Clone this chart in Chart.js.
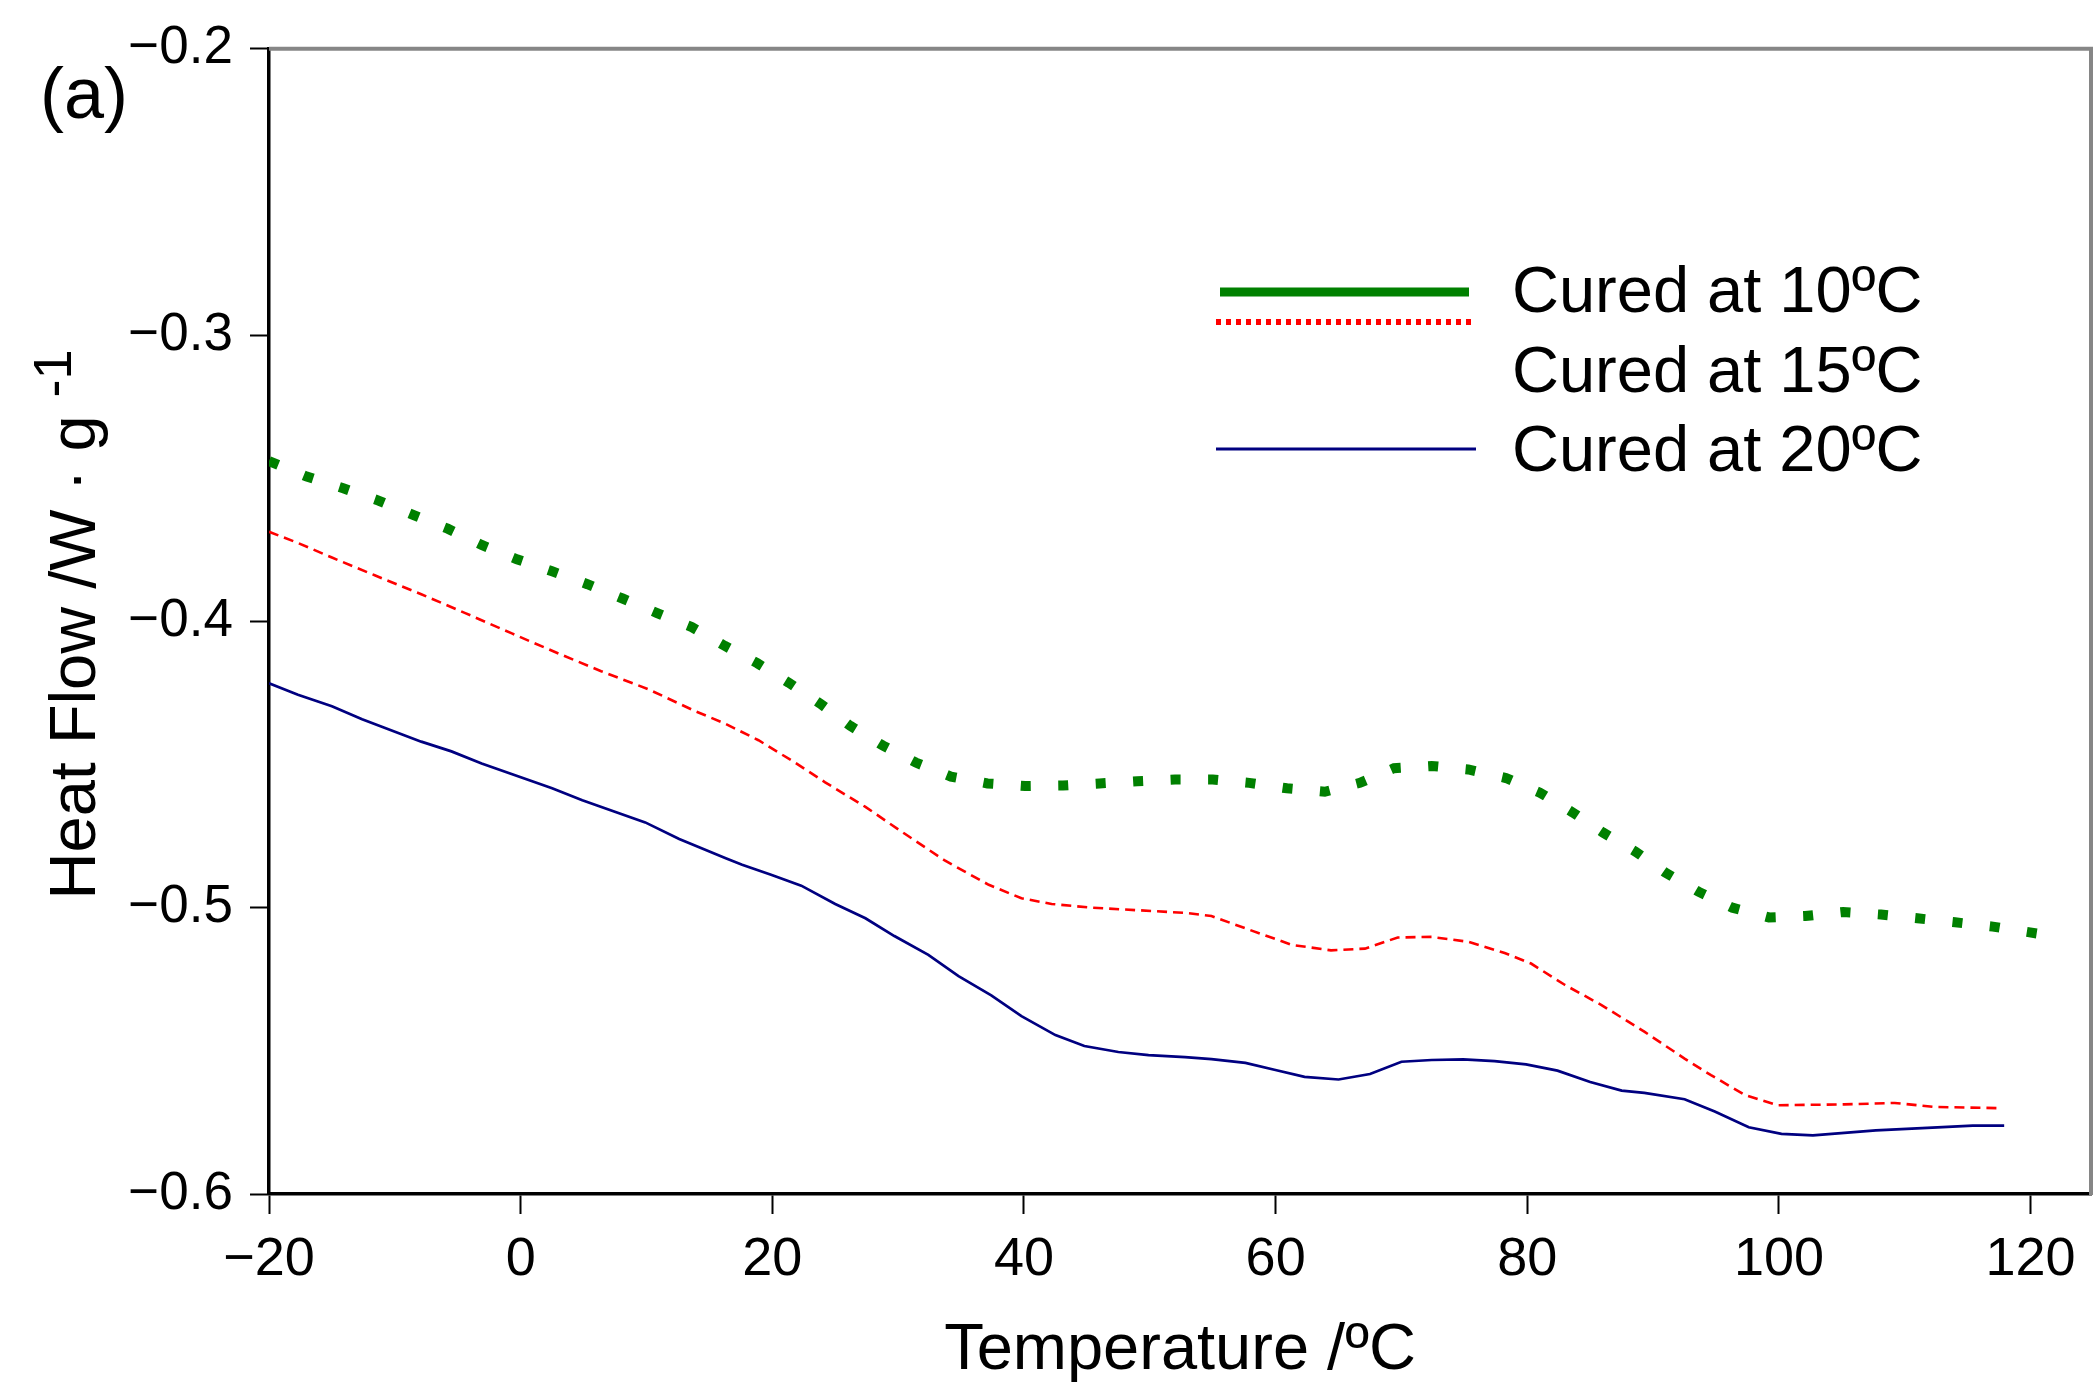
<!DOCTYPE html>
<html>
<head>
<meta charset="utf-8">
<title>DSC heat flow</title>
<script src="https://cdn.jsdelivr.net/npm/chart.js@4.4.1/dist/chart.umd.min.js"></script>
<style>
  html, body { margin: 0; padding: 0; background: #fff; }
  #wrap { width: 2095px; height: 1382px; }
</style>
</head>
<body>
<div id="wrap"><canvas id="dscChart" width="2095" height="1382"></canvas></div>
<script>
// Curves: temperature (ºC) vs heat flow (W/g)
const temp10 = [-20, -17.0, -14.1, -11.3, -8.5, -5.8, -3.1, -0.3, 2.5, 5.3, 8.1, 10.8, 13.6, 16.2, 18.8, 21.3, 23.8, 26.2, 28.8, 31.4, 34.2, 37.1, 40.1, 43.1, 46.0, 49.0, 52.0, 55.0, 57.9, 60.9, 63.9, 66.7, 69.4, 72.4, 75.3, 78.3, 81.0, 83.6, 86.0, 88.6, 91.0, 93.6, 96.3, 99.2, 102.1, 105.1, 108.1, 111.0, 114.0, 117.0, 120.5];
const flow10 = [-0.3440, -0.3494, -0.3535, -0.3578, -0.3629, -0.3676, -0.3733, -0.3783, -0.3825, -0.3870, -0.3920, -0.3970, -0.4020, -0.4085, -0.4146, -0.4214, -0.4287, -0.4365, -0.4434, -0.4493, -0.4542, -0.4566, -0.4575, -0.4573, -0.4566, -0.4558, -0.4552, -0.4552, -0.4564, -0.4583, -0.4595, -0.4564, -0.4513, -0.4505, -0.4517, -0.4547, -0.4598, -0.4667, -0.4737, -0.4804, -0.4878, -0.4944, -0.5000, -0.5034, -0.5029, -0.5015, -0.5024, -0.5037, -0.5051, -0.5066, -0.5090];

const temp15 = [-20, -17.7, -15.0, -11.6, -7.9, -4.4, -0.7, 3.0, 6.4, 10.1, 13.9, 16.2, 18.9, 21.8, 24.2, 27.4, 30.5, 33.7, 37.2, 39.8, 42.2, 45.4, 49.1, 52.8, 54.9, 58.1, 61.3, 64.4, 67.1, 69.7, 72.4, 75.3, 78.2, 80.3, 83.0, 85.9, 89.3, 92.5, 94.6, 97.3, 99.9, 105.2, 109.2, 112.4, 117.4];
const flow15 = [-0.3687, -0.3726, -0.3777, -0.3839, -0.3905, -0.3971, -0.4042, -0.4112, -0.4174, -0.4236, -0.4314, -0.4356, -0.4415, -0.4493, -0.4562, -0.4648, -0.4741, -0.4835, -0.4920, -0.4967, -0.4987, -0.5000, -0.5009, -0.5018, -0.5029, -0.5080, -0.5130, -0.5149, -0.5143, -0.5104, -0.5102, -0.5119, -0.5158, -0.5195, -0.5270, -0.5340, -0.5433, -0.5527, -0.5585, -0.5654, -0.5690, -0.5687, -0.5682, -0.5696, -0.5700];

const temp20 = [-20, -17.7, -15.0, -12.6, -7.9, -5.5, -3.1, 2.5, 4.9, 9.9, 12.6, 16.3, 17.6, 19.9, 22.3, 25.0, 27.4, 29.7, 32.4, 34.8, 37.4, 39.8, 42.5, 44.8, 47.5, 49.9, 52.8, 54.9, 57.6, 59.9, 62.3, 65.0, 67.5, 70.0, 72.4, 74.9, 77.4, 79.9, 82.4, 85.0, 87.5, 89.3, 92.5, 94.9, 97.6, 100.2, 102.7, 107.7, 112.6, 115.4, 117.9];
const flow20 = [-0.4216, -0.4256, -0.4296, -0.4342, -0.4420, -0.4454, -0.4496, -0.4583, -0.4625, -0.4702, -0.4760, -0.4827, -0.4850, -0.4885, -0.4923, -0.4987, -0.5037, -0.5099, -0.5165, -0.5239, -0.5306, -0.5379, -0.5445, -0.5483, -0.5504, -0.5515, -0.5522, -0.5529, -0.5542, -0.5566, -0.5591, -0.5600, -0.5581, -0.5538, -0.5532, -0.5530, -0.5536, -0.5547, -0.5569, -0.5609, -0.5639, -0.5647, -0.5669, -0.5712, -0.5767, -0.5790, -0.5795, -0.5778, -0.5767, -0.5761, -0.5761];

const seriesLabels = ['Cured at 10ºC', 'Cured at 15ºC', 'Cured at 20ºC'];
const xTicks = [-20, 0, 20, 40, 60, 80, 100, 120];
const yTicks = [-0.6, -0.5, -0.4, -0.3, -0.2];

const FONT = "'Liberation Sans', Arial, Helvetica, sans-serif";

function toPoints(xs, ys) {
  return xs.map((x, i) => ({ x: x, y: ys[i] }));
}

function minusLabel(v, digits) {
  const s = Math.abs(v).toFixed(digits);
  return v < 0 ? '\u2212' + s : s;
}

// axis titles, panel tag, grey frame and the legend
const figureDecor = {
  id: 'figureDecor',
  afterDraw(chart) {
    const ctx = chart.ctx;
    const a = chart.chartArea;
    ctx.save();

    // grey top / right frame
    ctx.strokeStyle = '#868686';
    ctx.lineWidth = 4;
    ctx.beginPath();
    ctx.moveTo(a.left, a.top);
    ctx.lineTo(a.right, a.top);
    ctx.lineTo(a.right, a.bottom + 1);
    ctx.stroke();

    ctx.fillStyle = '#000';
    ctx.textBaseline = 'alphabetic';

    // panel tag
    ctx.font = '72px ' + FONT;
    ctx.textAlign = 'left';
    ctx.fillText('(a)', 40, 118);

    // x title
    ctx.font = '65px ' + FONT;
    ctx.textAlign = 'center';
    ctx.fillText('Temperature /ºC', (a.left + a.right) / 2, 1369);

    // y title with superscript
    const main = 'Heat Flow /W \u00b7 g';
    const sup = '-1';
    ctx.font = '65px ' + FONT;
    const wMain = ctx.measureText(main).width;
    const gap = ctx.measureText(' ').width;
    ctx.font = '54px ' + FONT;
    const wSup = ctx.measureText(sup).width;
    const total = wMain + gap + wSup;
    const midY = (a.top + a.bottom) / 2 + 3;
    ctx.save();
    ctx.translate(95, midY + total / 2);
    ctx.rotate(-Math.PI / 2);
    ctx.textAlign = 'left';
    ctx.font = '65px ' + FONT;
    ctx.fillText(main, 0, 0);
    ctx.font = '54px ' + FONT;
    ctx.fillText(sup, wMain + gap, -24);
    ctx.restore();

    // legend (sample lines as in the original figure)
    const ds = chart.data.datasets;
    ctx.lineCap = 'butt';
    ctx.strokeStyle = ds[0].borderColor;
    ctx.lineWidth = 9;
    ctx.setLineDash([]);
    ctx.beginPath(); ctx.moveTo(1220, 292); ctx.lineTo(1469, 292); ctx.stroke();

    ctx.strokeStyle = ds[1].borderColor;
    ctx.lineWidth = 6;
    ctx.setLineDash([5, 5]);
    ctx.beginPath(); ctx.moveTo(1216, 322); ctx.lineTo(1476, 322); ctx.stroke();

    ctx.strokeStyle = ds[2].borderColor;
    ctx.lineWidth = 3;
    ctx.setLineDash([]);
    ctx.beginPath(); ctx.moveTo(1216, 449); ctx.lineTo(1476, 449); ctx.stroke();

    ctx.font = '65px ' + FONT;
    ctx.textAlign = 'left';
    ctx.fillStyle = '#000';
    const rows = [312, 392, 471];
    ds.forEach((d, i) => ctx.fillText(d.label, 1512, rows[i]));

    ctx.restore();
  }
};

const chart = new Chart(document.getElementById('dscChart'), {
  type: 'line',
  data: {
    datasets: [
      {
        label: seriesLabels[0],
        data: toPoints(temp10, flow10),
        borderColor: '#008000',
        borderWidth: 10,
        borderDash: [10, 27.5],
        borderCapStyle: 'butt',
      },
      {
        label: seriesLabels[1],
        data: toPoints(temp15, flow15),
        borderColor: '#ff0000',
        borderWidth: 2.6,
        borderDash: [10, 6],
      },
      {
        label: seriesLabels[2],
        data: toPoints(temp20, flow20),
        borderColor: '#000080',
        borderWidth: 2.7,
      }
    ]
  },
  options: {
    responsive: false,
    animation: false,
    devicePixelRatio: 1,
    layout: { padding: { left: 0, right: 4, top: 45, bottom: 0 } },
    elements: {
      point: { radius: 0, hoverRadius: 0 },
      line: { tension: 0, fill: false }
    },
    plugins: {
      legend: { display: false },
      tooltip: { enabled: false }
    },
    scales: {
      x: {
        type: 'linear',
        min: -20,
        max: 124.8,
        afterFit: (scale) => { scale.height = 188; },
        afterBuildTicks: (scale) => { scale.ticks = xTicks.map(v => ({ value: v })); },
        border: { display: true, color: '#000', width: 3.5 },
        grid: { drawOnChartArea: false, drawTicks: true, tickLength: 20, tickWidth: 2, tickColor: '#000' },
        ticks: {
          color: '#000',
          padding: 14,
          maxRotation: 0,
          autoSkip: false,
          font: { family: FONT, size: 54, lineHeight: 1.2 },
          callback: (v) => minusLabel(v, 0)
        }
      },
      y: {
        type: 'linear',
        min: -0.6,
        max: -0.2,
        afterFit: (scale) => { scale.width = 269; },
        afterBuildTicks: (scale) => { scale.ticks = yTicks.map(v => ({ value: v })); },
        border: { display: true, color: '#000', width: 3.5 },
        grid: { drawOnChartArea: false, drawTicks: true, tickLength: 19, tickWidth: 2, tickColor: '#000' },
        ticks: {
          color: '#000',
          padding: 17,
          autoSkip: false,
          font: { family: FONT, size: 53, lineHeight: 1.2 },
          callback: (v) => minusLabel(v, 1)
        }
      }
    }
  },
  plugins: [figureDecor]
});
</script>
</body>
</html>
